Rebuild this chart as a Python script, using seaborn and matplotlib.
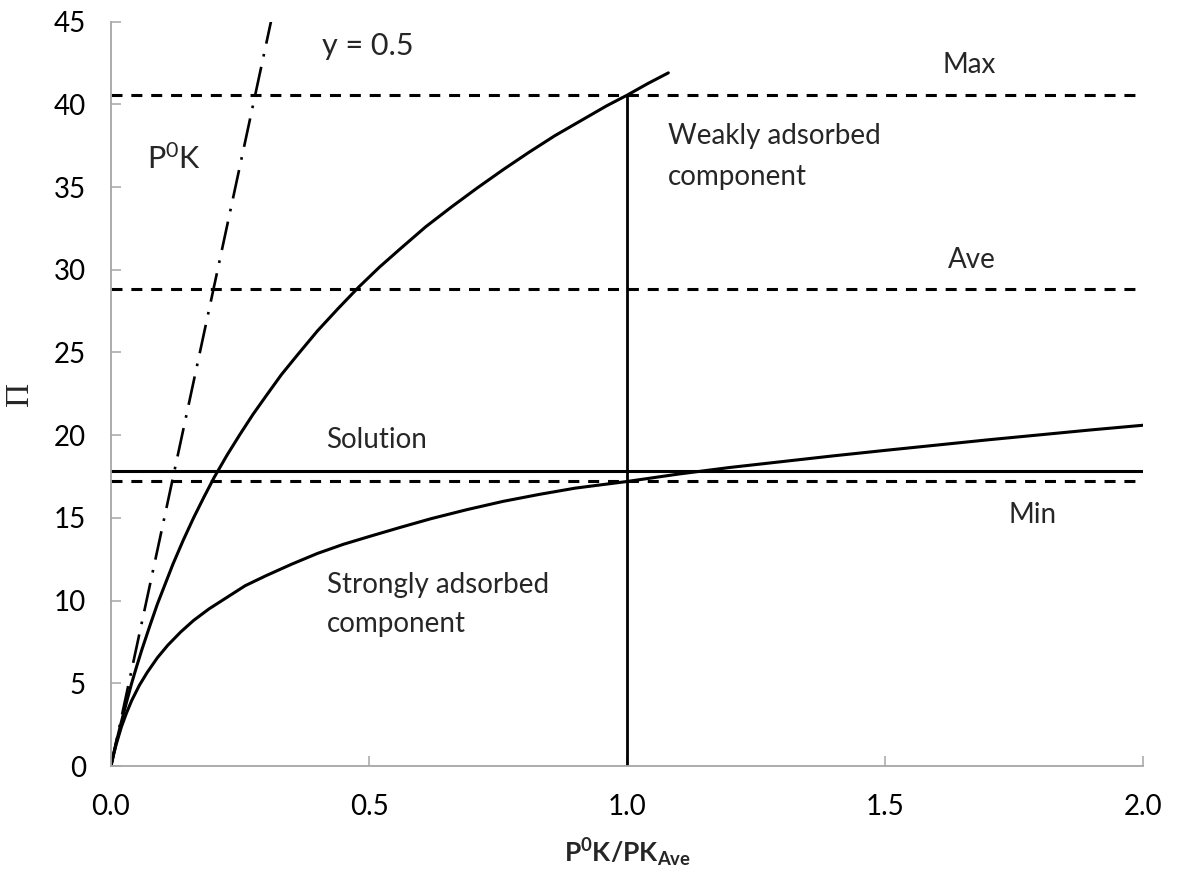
import matplotlib
matplotlib.use("Agg")
import matplotlib.pyplot as plt
import seaborn as sns

# weakly adsorbed component
weak_x = [0.0, 0.01, 0.02, 0.03, 0.04, 0.05, 0.06, 0.075, 0.09, 0.105, 0.12, 0.14,
          0.16, 0.18, 0.2, 0.225, 0.25, 0.275, 0.3, 0.33, 0.36, 0.4, 0.44, 0.48,
          0.52, 0.56, 0.61, 0.66, 0.71, 0.76, 0.81, 0.86, 0.91, 0.96, 1.0, 1.04, 1.08]
weak_y = [0.0, 1.4, 2.65, 3.85, 5.0, 6.05, 7.05, 8.45, 9.8, 11.0, 12.2, 13.65,
          15.0, 16.25, 17.45, 18.8, 20.05, 21.25, 22.35, 23.65, 24.8, 26.3, 27.65, 28.95,
          30.15, 31.25, 32.6, 33.8, 34.95, 36.05, 37.1, 38.1, 39.0, 39.9, 40.55, 41.25, 41.9]

# strongly adsorbed component
strong_x = [0.0, 0.005, 0.01, 0.02, 0.03, 0.04, 0.055, 0.07, 0.09, 0.11, 0.135, 0.16,
            0.19, 0.22, 0.26, 0.3, 0.35, 0.4, 0.45, 0.5, 0.56, 0.62, 0.69, 0.76,
            0.83, 0.9, 1.0, 1.1, 1.2, 1.3, 1.4, 1.5, 1.6, 1.7, 1.8, 1.9, 2.0]
strong_y = [0.0, 0.7, 1.3, 2.35, 3.2, 3.95, 4.88, 5.65, 6.55, 7.3, 8.1, 8.8,
            9.5, 10.1, 10.9, 11.5, 12.2, 12.85, 13.4, 13.87, 14.42, 14.95, 15.5, 16.0,
            16.42, 16.8, 17.2, 17.65, 18.05, 18.4, 18.75, 19.08, 19.4, 19.72, 20.02, 20.32, 20.6]

# P0K line, y = 0.5
p0k_x = [0.0, 0.31]
p0k_y = [0.0, 45.0]

# levels
pi_max = 40.55
pi_ave = 28.85
pi_min = 17.2
pi_solution = 17.85
x_ave = 1.0

sns.set_theme(style="ticks")
plt.rcParams["font.family"] = ["Lato", "DejaVu Sans"]
plt.rcParams["mathtext.fontset"] = "custom"
plt.rcParams["mathtext.rm"] = "Lato"
plt.rcParams["mathtext.it"] = "Lato"
plt.rcParams["mathtext.bf"] = "Lato:bold"

fig = plt.figure(figsize=(11.77, 8.81), dpi=100)
ax = fig.add_axes([0.0943, 0.1305, 0.8769, 0.845])

lw = 2.2
sns.lineplot(x=weak_x, y=weak_y, ax=ax, color="black", lw=lw, sort=False)
sns.lineplot(x=strong_x, y=strong_y, ax=ax, color="black", lw=lw, sort=False)
sns.lineplot(x=p0k_x, y=p0k_y, ax=ax, color="black", lw=1.9, sort=False,
             linestyle=(0, (11, 4, 1, 4)))

dash = (0, (3.6, 2.9))
ax.axhline(pi_max, color="black", lw=lw, linestyle=dash)
ax.axhline(pi_ave, color="black", lw=lw, linestyle=dash)
ax.axhline(pi_min, color="black", lw=lw, linestyle=dash)
ax.axhline(pi_solution, color="black", lw=lw)
ax.plot([x_ave, x_ave], [0, pi_max], color="black", lw=2.0)

ax.set_xlim(0, 2.0)
ax.set_ylim(0, 45)
ax.set_xticks([0.0, 0.5, 1.0, 1.5, 2.0])
ax.set_xticklabels(["0.0", "0.5", "1.0", "1.5", "2.0"])
ax.set_yticks(range(0, 46, 5))

for s in ["top", "right"]:
    ax.spines[s].set_visible(False)
for s in ["left", "bottom"]:
    ax.spines[s].set_color("#a6a6a6")
    ax.spines[s].set_linewidth(1.3)
ax.tick_params(axis="both", direction="in", length=7, width=1.1, color="#a6a6a6",
               labelsize=20, labelcolor="black")
ax.tick_params(axis="y", pad=18)
ax.tick_params(axis="x", pad=20)

ax.set_xlabel(r"$\mathbf{P^{0}K/PK_{Ave}}$", fontsize=19)
ax.xaxis.set_label_coords(0.5, -0.095)
ax.set_ylabel("\u03a0", fontsize=24, family=["Liberation Serif", "DejaVu Serif"])
ax.yaxis.set_label_coords(-0.074, 0.5)

ts = 20
ax.text(0.409, 42.97, "y = 0.5", fontsize=22, va="baseline")
ax.text(0.069, 36.1, r"P$^{0}$K", fontsize=22, va="baseline")
ax.text(1.611, 41.87, "Max", fontsize=ts, va="baseline")
ax.text(1.08, 37.6, "Weakly adsorbed", fontsize=ts, va="baseline")
ax.text(1.08, 35.15, "component", fontsize=ts, va="baseline")
ax.text(1.622, 30.09, "Ave", fontsize=ts, va="baseline")
ax.text(0.417, 19.2, "Solution", fontsize=ts, va="baseline")
ax.text(1.739, 14.71, "Min", fontsize=ts, va="baseline")
ax.text(0.418, 10.44, "Strongly adsorbed", fontsize=ts, va="baseline")
ax.text(0.418, 8.12, "component", fontsize=ts, va="baseline")

fig.savefig("out.png", dpi=100)
